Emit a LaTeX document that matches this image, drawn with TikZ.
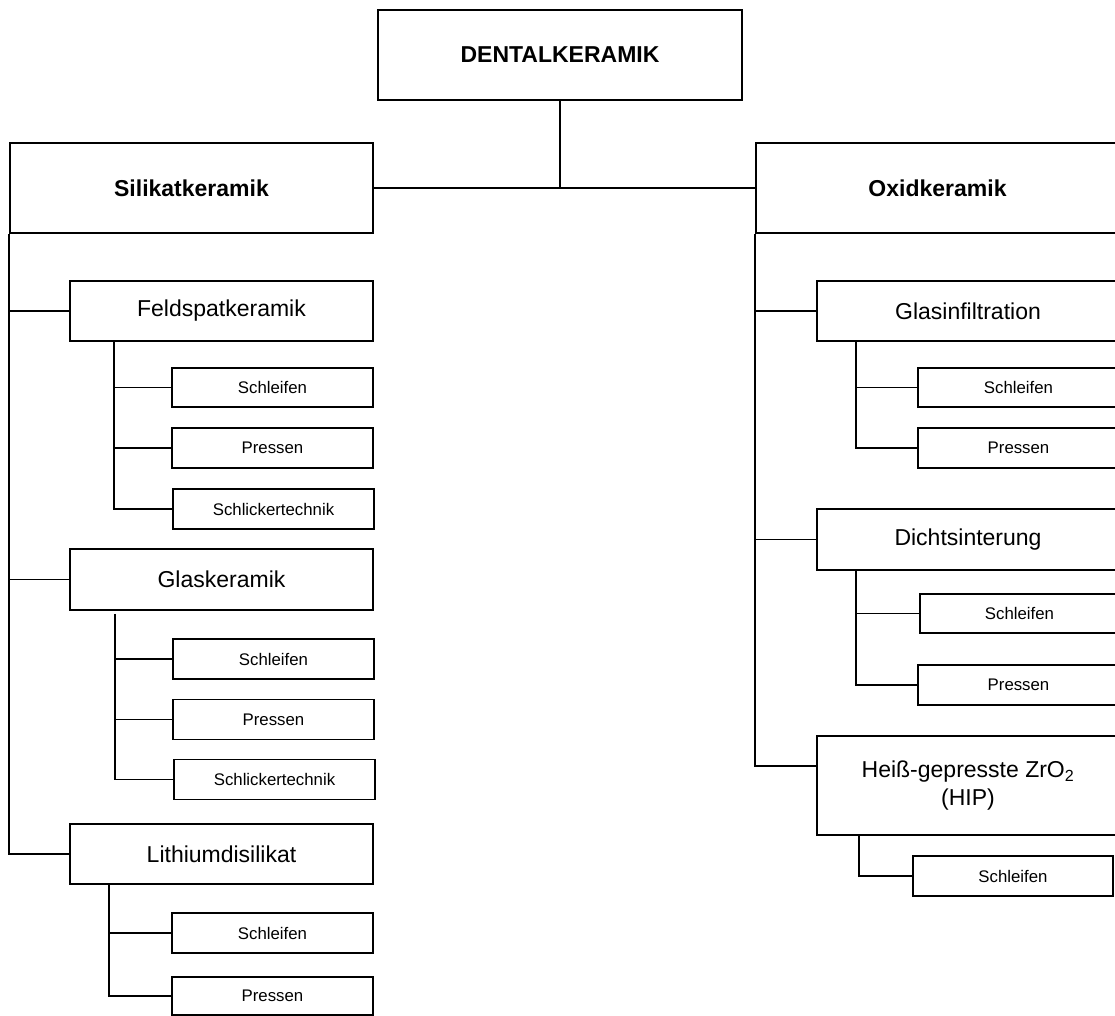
\documentclass[tikz,border=0pt]{standalone}
\usepackage{fontspec}
\setmainfont{Liberation Sans}
\usetikzlibrary{calc}
\begin{document}
\begin{tikzpicture}[x=1pt,y=-1pt,
  line width=1.8pt,
  box/.style={draw, line width=1.8pt, inner sep=0pt, anchor=center, align=center},
  bigbox/.style={box, font=\fontsize{23}{28}\selectfont},
  headbox/.style={box, font=\fontsize{23}{28}\selectfont\bfseries},
  smallbox/.style={box, font=\fontsize{16.8}{20}\selectfont},
  conn/.style={draw, line width=1.8pt}
]
\useasboundingbox (0,0) rectangle (1115,1016);
% top level
\node[headbox, minimum width=364pt, minimum height=90pt] (dent) at (560,55) {DENTALKERAMIK};
\node[headbox, minimum width=363pt, minimum height=90pt] (sil) at (191.5,188) {Silikatkeramik};
\node[headbox, minimum width=363pt, minimum height=90pt] (oxid) at (937.5,188) {Oxidkeramik};
% left branch
\node[bigbox, minimum width=303pt, minimum height=60pt] (feld) at (221.5,311) {Feldspatkeramik};
\node[smallbox, minimum width=201pt, minimum height=39pt] (fs1) at (272.5,387.5) {Schleifen};
\node[smallbox, minimum width=201pt, minimum height=40pt] (fs2) at (272.5,448) {Pressen};
\node[smallbox, minimum width=201pt, minimum height=40pt] (fs3) at (273.5,509) {Schlickertechnik};
\node[bigbox, minimum width=303pt, minimum height=61pt] (glas) at (221.5,579.5) {Glaskeramik};
\node[smallbox, minimum width=201pt, minimum height=40pt] (gk1) at (273.5,659) {Schleifen};
\node[smallbox, minimum width=201pt, minimum height=40pt] (gk2) at (273.5,719.5) {Pressen};
\node[smallbox, minimum width=201pt, minimum height=40pt] (gk3) at (274.5,779.5) {Schlickertechnik};
\node[bigbox, minimum width=303pt, minimum height=60pt] (lith) at (221.5,854) {Lithiumdisilikat};
\node[smallbox, minimum width=201pt, minimum height=40pt] (li1) at (272.5,933) {Schleifen};
\node[smallbox, minimum width=201pt, minimum height=38pt] (li2) at (272.5,996) {Pressen};
% right branch
\node[bigbox, minimum width=302pt, minimum height=60pt] (ginf) at (968,311) {Glasinfiltration};
\node[smallbox, minimum width=201pt, minimum height=39pt] (gi1) at (1018.5,387.5) {Schleifen};
\node[smallbox, minimum width=201pt, minimum height=40pt] (gi2) at (1018.5,448) {Pressen};
\node[bigbox, minimum width=302pt, minimum height=61pt] (dicht) at (968,539.5) {Dichtsinterung};
\node[smallbox, minimum width=199pt, minimum height=39pt] (di1) at (1019.5,613.5) {Schleifen};
\node[smallbox, minimum width=201pt, minimum height=40pt] (di2) at (1018.5,685) {Pressen};
\node[bigbox, minimum width=302pt, minimum height=99pt] (hip) at (968,785.5) {Heiß-gepresste ZrO\textsubscript{2}\\(HIP)};
\node[smallbox, minimum width=200pt, minimum height=40pt] (hi1) at (1013,876) {Schleifen};
% helper coordinates
\coordinate (hipin) at ($(hip.north west)!0.31!(hip.south west)$);
\coordinate (fst) at ($(feld.south west)+(45,0)$);
\coordinate (gst) at ($(glas.south west)+(46,3)$);
\coordinate (lst) at ($(lith.south west)+(40,0)$);
\coordinate (gist) at ($(ginf.south west)+(40,0)$);
\coordinate (dist) at ($(dicht.south west)+(40,0)$);
\coordinate (hist) at ($(hip.south west)+(43,0)$);
% top connectors
\draw[conn] (dent.south) -- (dent.south |- sil.east);
\draw[conn] (sil.east) -- (oxid.west);
% left trunk
\draw[conn] (sil.south west) |- (lith.west);
\draw[conn] (sil.south west |- feld.west) -- (feld.west);
\draw[conn] (sil.south west |- glas.west) -- (glas.west);
% left sub-stems
\draw[conn] (fst) |- (fs3.west);
\draw[conn] (fst |- fs1.west) -- (fs1.west);
\draw[conn] (fst |- fs2.west) -- (fs2.west);
\draw[conn] (gst) |- (gk3.west);
\draw[conn] (gst |- gk1.west) -- (gk1.west);
\draw[conn] (gst |- gk2.west) -- (gk2.west);
\draw[conn] (lst) |- (li2.west);
\draw[conn] (lst |- li1.west) -- (li1.west);
% right trunk
\draw[conn] (oxid.south west) |- (hipin);
\draw[conn] (oxid.south west |- ginf.west) -- (ginf.west);
\draw[conn] (oxid.south west |- dicht.west) -- (dicht.west);
% right sub-stems
\draw[conn] (gist) |- (gi2.west);
\draw[conn] (gist |- gi1.west) -- (gi1.west);
\draw[conn] (dist) |- (di2.west);
\draw[conn] (dist |- di1.west) -- (di1.west);
\draw[conn] (hist) |- (hi1.west);
\end{tikzpicture}
\end{document}
